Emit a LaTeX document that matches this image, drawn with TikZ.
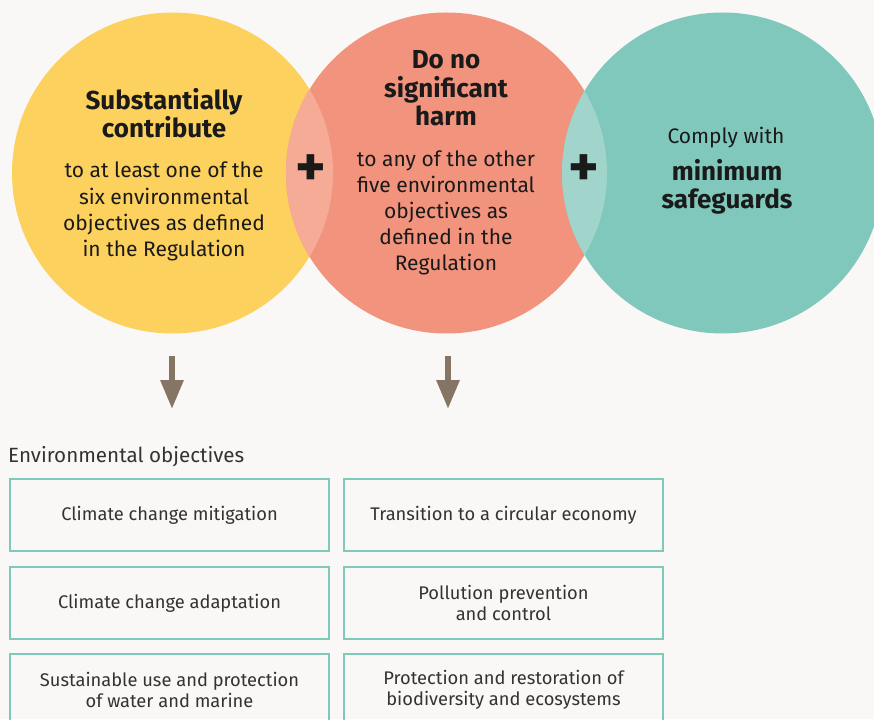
\documentclass[tikz,border=0pt]{standalone}
\usepackage{fontspec}
\setmainfont{Fira Sans}
\usetikzlibrary{arrows.meta}
\definecolor{bg}{HTML}{F9F8F6}
\definecolor{cyel}{HTML}{FDD15E}
\definecolor{cred}{HTML}{F2937D}
\definecolor{cteal}{HTML}{80C8BB}
\definecolor{lensa}{HTML}{F6AB97}
\definecolor{lensb}{HTML}{A1D5CC}
\definecolor{arrowc}{HTML}{857565}
\definecolor{ink}{HTML}{1A1A1A}
\definecolor{boxink}{HTML}{333333}
\begin{document}
\begin{tikzpicture}[x=1pt,y=-1pt,
  headtxt/.style={align=center,inner sep=0pt,text=ink,font=\fontsize{26}{28.5}\selectfont\bfseries},
  bodytxt/.style={align=center,inner sep=0pt,text=ink,font=\fontsize{21}{26}\selectfont},
  plustxt/.style={inner sep=0pt,text=ink,font=\fontsize{58}{58}\selectfont\bfseries},
  objbox/.style={draw=cteal,line width=1.5pt,minimum width=319pt,minimum height=72pt,inner sep=0pt,
    align=center,text=boxink,font=\fontsize{18.3}{21.5}\selectfont},
  downarrow/.style={draw=arrowc,line width=6pt,-{Triangle[width=22pt,length=29pt]}}]
\path[use as bounding box] (0,0) rectangle (874,719);
\fill[bg] (0,0) rectangle (874,719);
\clip (0,0) rectangle (874,719);
\coordinate (cY) at (172.5,173);
\coordinate (cR) at (446.5,173);
\coordinate (cT) at (722.5,173);
\fill[cyel] (cY) circle (160.5pt);
\fill[cred] (cR) circle (160.5pt);
\fill[cteal] (cT) circle (160.5pt);
\begin{scope}
  \clip (cY) circle (160.5pt);
  \fill[lensa] (cR) circle (160.5pt);
\end{scope}
\begin{scope}
  \clip (cR) circle (160.5pt);
  \fill[lensb] (cT) circle (160.5pt);
\end{scope}
% texts in circles (anchor = baseline of last line)
\node[headtxt,anchor=base] (yhead) at (164,138) {Substantially\\contribute};
\node[bodytxt,anchor=base] (ybody) at (164,256) {to at least one of the\\six environmental\\objectives as defined\\in the Regulation};
\node[headtxt,anchor=base] (rhead) at (446,126) {Do no\\significant\\harm};
\node[bodytxt,anchor=base] (rbody) at (446,270) {to any of the other\\five environmental\\objectives as\\defined in the\\Regulation};
\node[bodytxt,anchor=base] (tbody) at (726,144) {Comply with};
\node[headtxt,anchor=base] (thead) at (727,209) {minimum\\safeguards};
\node[plustxt] (plus1) at (310.5,171) {+};
\node[plustxt] (plus2) at (584,171) {+};
% arrows
\coordinate (a1s) at (172,356);
\coordinate (a1e) at (172,409);
\coordinate (a2s) at (448,356);
\coordinate (a2e) at (448,409);
\draw[downarrow] (a1s) -- (a1e);
\draw[downarrow] (a2s) -- (a2e);
% objectives
\node[anchor=base west,inner sep=0pt,text=boxink,font=\fontsize{20.6}{24}\selectfont] (envlabel) at (8,462) {Environmental objectives};
\node[objbox] (b1) at (169.5,515) {Climate change mitigation};
\node[objbox] (b2) at (169.5,603) {Climate change adaptation};
\node[objbox] (b3) at (169.5,690) {Sustainable use and protection\\of water and marine};
\node[objbox] (b4) at (503.5,515) {Transition to a circular economy};
\node[objbox] (b5) at (503.5,603) {Pollution prevention\\and control};
\node[objbox] (b6) at (503.5,690) {Protection and restoration of\\biodiversity and ecosystems};
\end{tikzpicture}
\end{document}
